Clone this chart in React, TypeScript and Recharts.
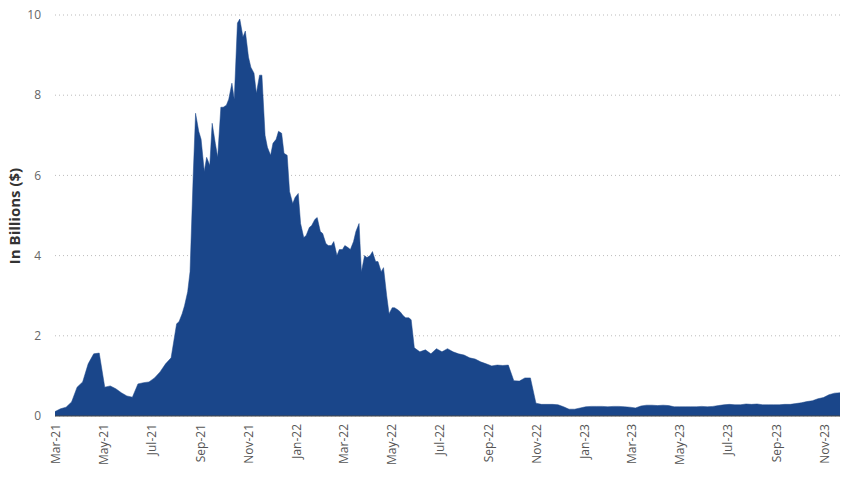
import React from 'react'
import { AreaChart, Area, XAxis, YAxis, CartesianGrid } from 'recharts'

// weekly values in billions of dollars, first week starting 2021-03-01
const startDate = '2021-03-01'

const weeklyValues: number[] = [
  0.11, 0.18, 0.22, 0.35, 0.72, 0.85, 1.3, 1.55, 1.57, 0.72,
  0.75, 0.68, 0.58, 0.5, 0.47, 0.8, 0.83, 0.85, 0.95, 1.1,
  1.3, 1.45, 2.3, 2.55, 3.1, 6.0, 7.1, 6.1, 6.25, 6.8,
  7.7, 7.75, 8.3, 9.8, 9.45, 8.95, 8.55, 8.5, 7.0, 6.5,
  6.9, 7.05, 6.5, 5.3, 5.55, 4.45, 4.7, 4.9, 4.6, 4.3,
  4.25, 4.0, 4.15, 4.2, 4.35, 4.8, 4.0, 4.0, 3.85, 3.6,
  3.0, 2.7, 2.65, 2.5, 2.45, 1.7, 1.6, 1.65, 1.55, 1.68,
  1.6, 1.68, 1.6, 1.55, 1.52, 1.45, 1.42, 1.35, 1.3, 1.25,
  1.27, 1.26, 1.27, 0.88, 0.87, 0.95, 0.95, 0.32, 0.29, 0.29,
  0.29, 0.28, 0.23, 0.17, 0.17, 0.2, 0.23, 0.24, 0.24, 0.24,
  0.23, 0.24, 0.24, 0.23, 0.22, 0.2, 0.25, 0.27, 0.27, 0.26,
  0.27, 0.26, 0.23, 0.23, 0.23, 0.23, 0.23, 0.24, 0.23, 0.24,
  0.26, 0.28, 0.29, 0.28, 0.28, 0.3, 0.29, 0.3, 0.28, 0.28,
  0.28, 0.28, 0.29, 0.29, 0.31, 0.33, 0.36, 0.38, 0.43, 0.46,
  0.53, 0.57, 0.58,
]

// extra mid-week readings (3 days after the weekly point) for the volatile stretch
const midWeekFrom = 22
const midWeekValues: number[] = [
  2.35, 2.75, 3.6, 7.55, 6.9, 6.45, 7.3, 6.45, 7.7, 7.9,
  7.9, 9.9, 9.6, 8.7, 8.05, 8.5, 6.7, 6.8, 7.1, 6.55,
  5.6, 5.45, 4.8, 4.5, 4.75, 4.95, 4.55, 4.25, 4.35, 4.15,
  4.25, 4.15, 4.6, 3.6, 3.95, 4.1, 3.85, 3.7, 2.55, 2.7,
  2.6, 2.45, 2.4,
]

const tickDates = [
  '2021-03-01', '2021-05-01', '2021-07-01', '2021-09-01', '2021-11-01',
  '2022-01-01', '2022-03-01', '2022-05-01', '2022-07-01', '2022-09-01',
  '2022-11-01', '2023-01-01', '2023-03-01', '2023-05-01', '2023-07-01',
  '2023-09-01', '2023-11-01',
]

const yTicks = [0, 2, 4, 6, 8, 10]

const monthNames = ['Jan', 'Feb', 'Mar', 'Apr', 'May', 'Jun', 'Jul', 'Aug', 'Sep', 'Oct', 'Nov', 'Dec']

const DAY = 86400000
const t0 = Date.parse(startDate + 'T00:00:00Z')

const data: { t: number; value: number }[] = []
weeklyValues.forEach((v, i) => {
  const t = t0 + i * 7 * DAY
  data.push({ t, value: v })
  const m = i - midWeekFrom
  if (m >= 0 && m < midWeekValues.length) {
    data.push({ t: t + 3 * DAY, value: midWeekValues[m] })
  }
})

const xTicks = tickDates.map(d => Date.parse(d + 'T00:00:00Z'))

function fmtMonth(t: number) {
  const d = new Date(t)
  return monthNames[d.getUTCMonth()] + '-' + String(d.getUTCFullYear()).slice(2)
}

const FONT = '"Open Sans", "Noto Sans", sans-serif'

function RotatedTick(props: any) {
  const { x, y, payload } = props
  return (
    <text
      x={x}
      y={y}
      transform={`rotate(-90 ${x} ${y})`}
      textAnchor="end"
      dominantBaseline="central"
      fontSize={12}
      fontFamily={FONT}
      fill="#555"
    >
      {fmtMonth(payload.value)}
    </text>
  )
}

export default function App() {
  return (
    <div style={{ position: 'absolute', left: 0, top: 0, width: 850, height: 478, background: '#fff' }}>
      <AreaChart width={850} height={478} data={data} margin={{ top: 15, right: 10, bottom: 0, left: 0 }}>
        <CartesianGrid vertical={false} stroke="#bbb" strokeDasharray="1 3" />
        <XAxis
          dataKey="t"
          type="number"
          scale="time"
          domain={[data[0].t, data[data.length - 1].t]}
          ticks={xTicks}
          tick={<RotatedTick />}
          tickLine={false}
          tickSize={0}
          tickMargin={8}
          height={62}
          axisLine={{ stroke: '#444', strokeWidth: 1 }}
          interval={0}
        />
        <YAxis
          domain={[0, 10]}
          ticks={yTicks}
          width={55}
          axisLine={false}
          tickLine={false}
          tickMargin={8}
          tick={{ fontSize: 12, fontFamily: FONT, fill: '#666' }}
          label={{
            content: () => (
              <text
                x={14}
                y={216}
                transform="rotate(-90 14 216)"
                textAnchor="middle"
                dominantBaseline="central"
                fontSize={15}
                fontWeight="bold"
                fontFamily={FONT}
                fill="#333"
              >
                In Billions ($)
              </text>
            ),
          }}
        />
        <Area
          type="linear"
          dataKey="value"
          stroke="#1a468a"
          strokeWidth={0.5}
          fill="#1a468a"
          fillOpacity={1}
          isAnimationActive={false}
          dot={false}
          activeDot={false}
        />
      </AreaChart>
    </div>
  )
}
